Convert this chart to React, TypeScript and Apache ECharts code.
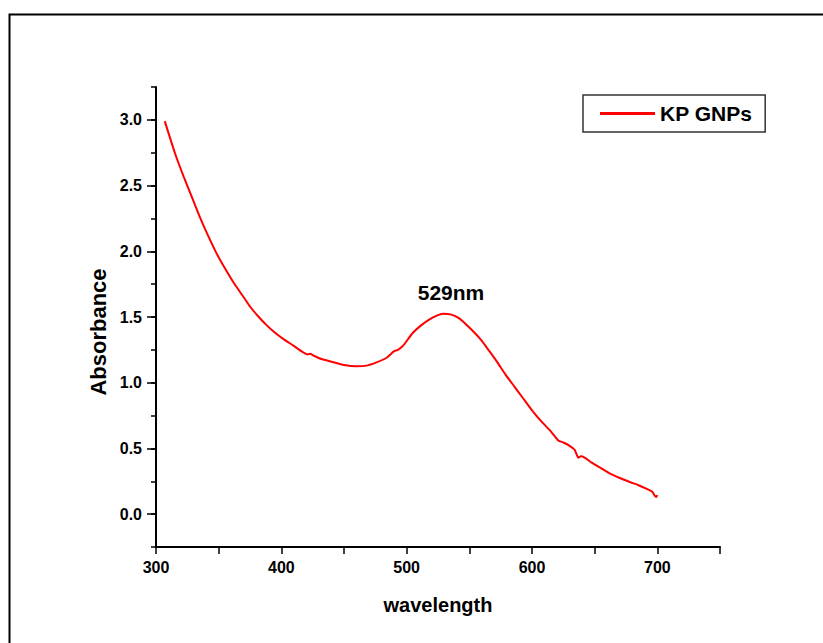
import React, { useEffect, useRef } from "react";
import * as echarts from "echarts";

const wavelength = [307, 315, 322, 330, 335, 341, 348, 355, 362, 370, 375, 382, 388, 395, 402, 410, 416, 421, 423, 426, 432, 440, 450, 460, 468, 476, 484, 490, 493, 497, 505, 512, 518, 524, 529, 535, 542, 550, 559, 566, 572, 579, 586, 593, 600, 608, 615, 621, 625, 630, 634, 637, 639, 642, 648, 655, 662, 670, 678, 685, 692, 696, 698, 699, 700];
const absorbance = [2.99, 2.75, 2.57, 2.38, 2.26, 2.13, 1.99, 1.87, 1.76, 1.65, 1.58, 1.5, 1.44, 1.38, 1.33, 1.28, 1.24, 1.215, 1.22, 1.205, 1.18, 1.16, 1.135, 1.125, 1.13, 1.155, 1.19, 1.24, 1.25, 1.28, 1.38, 1.44, 1.48, 1.51, 1.525, 1.52, 1.49, 1.42, 1.33, 1.24, 1.16, 1.06, 0.97, 0.88, 0.79, 0.7, 0.63, 0.56, 0.545, 0.52, 0.49, 0.43, 0.44, 0.43, 0.39, 0.35, 0.31, 0.275, 0.245, 0.22, 0.19, 0.17, 0.14, 0.13, 0.145];
const yMajorTicks = [0, 0.5, 1.0, 1.5, 2.0, 2.5, 3.0];
const seriesName = "KP GNPs";
const peakLabel = "529nm";
const xTitle = "wavelength";
const yTitle = "Absorbance";

const FONT = 'Arial, "Liberation Sans", sans-serif';

export default function App() {
  const ref = useRef<HTMLDivElement>(null);
  useEffect(() => {
    document.body.style.margin = "0";
    const chart = echarts.init(ref.current!, null, { renderer: "svg" });
    const data = wavelength.map((w, i) => [w, absorbance[i]]);
    chart.setOption({
      animation: false,
      backgroundColor: "#fff",
      grid: { left: 156, top: 87, right: 103, bottom: 96, containLabel: false },
      legend: {
        show: true,
        left: 583,
        top: 95,
        orient: "horizontal",
        padding: [8, 13, 8, 17],
        borderColor: "#333",
        borderWidth: 1.5,
        itemWidth: 55,
        itemHeight: 3,
        icon: "rect",
        textStyle: { fontFamily: FONT, fontWeight: "bold", fontSize: 21, color: "#000" },
        data: [seriesName],
      },
      xAxis: {
        type: "value",
        min: 300,
        max: 750,
        interval: 50,
        name: xTitle,
        nameLocation: "middle",
        nameGap: 48,
        nameTextStyle: { fontFamily: FONT, fontWeight: "bold", fontSize: 20, color: "#000" },
        axisLine: { show: true, onZero: false, lineStyle: { color: "#000", width: 2 } },
        axisTick: { show: true, inside: false, length: 7, lineStyle: { color: "#000", width: 1.5 } },
        axisLabel: {
          margin: 12,
          fontFamily: FONT,
          fontWeight: "bold",
          fontSize: 16,
          color: "#000",
          formatter: (v: number) => (v % 100 === 0 && v <= 700 ? String(v) : ""),
        },
        splitLine: { show: false },
      },
      yAxis: [
        {
          type: "value",
          min: -0.25,
          max: 3.25,
          interval: 0.25,
          axisLine: { show: true, onZero: false, lineStyle: { color: "#000", width: 2 } },
          axisTick: { show: true, inside: false, length: 5, lineStyle: { color: "#000", width: 1.5 } },
          axisLabel: {
            margin: 14,
            fontFamily: FONT,
            fontWeight: "bold",
            fontSize: 16,
            color: "#000",
            formatter: (v: number) => {
              const ok = yMajorTicks.some((t) => Math.abs(t - v) < 1e-6);
              return ok ? v.toFixed(1) : "";
            },
          },
          splitLine: { show: false },
        },
        {
          type: "value",
          min: -0.25,
          max: 3.25,
          position: "left",
          axisLine: { show: false },
          axisTick: {
            show: true,
            inside: false,
            length: 9,
            customValues: yMajorTicks,
            lineStyle: { color: "#000", width: 1.5 },
          },
          axisLabel: { show: false },
          splitLine: { show: false },
        },
      ],
      series: [
        {
          name: seriesName,
          type: "line",
          data,
          showSymbol: false,
          smooth: 0.2,
          lineStyle: { color: "#ff0000", width: 2 },
          itemStyle: { color: "#ff0000" },
          markPoint: {
            symbol: "circle",
            symbolSize: 0,
            data: [{ coord: [529, 1.525] }],
            label: {
              show: true,
              formatter: peakLabel,
              position: "top",
              distance: 11,
              offset: [8, 0],
              fontFamily: FONT,
              fontWeight: "bold",
              fontSize: 21,
              color: "#000",
            },
          },
        },
      ],
      graphic: [
        {
          type: "rect",
          left: 7,
          top: 12,
          shape: { width: 900, height: 700 },
          style: { fill: "none", stroke: "#000", lineWidth: 2 },
          silent: true,
        },
        {
          type: "text",
          x: 98,
          y: 332,
          rotation: Math.PI / 2,
          style: {
            text: yTitle,
            fontFamily: FONT,
            fontWeight: "bold",
            fontSize: 22,
            fill: "#000",
            textAlign: "center",
            textVerticalAlign: "middle",
          },
          silent: true,
        },
      ],
    });
    return () => chart.dispose();
  }, []);
  return <div ref={ref} style={{ width: 823, height: 643 }} />;
}
